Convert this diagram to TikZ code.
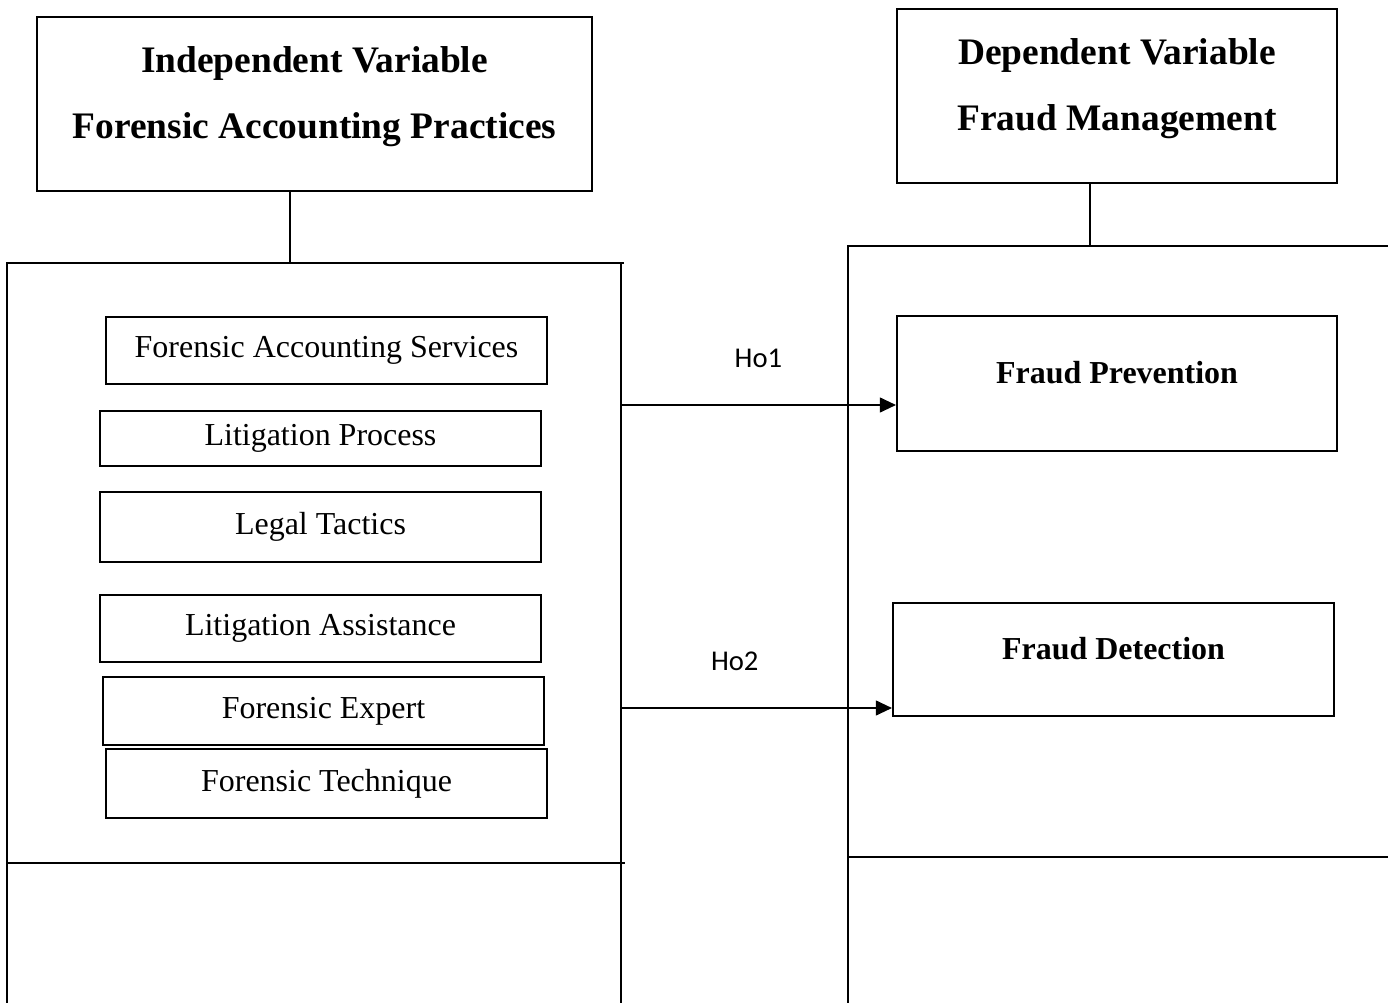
\documentclass[tikz,border=0pt]{standalone}
\usepackage{fontspec}
\setmainfont{Liberation Serif}
\newfontfamily\hofont{Carlito}
\usetikzlibrary{arrows.meta}

\begin{document}
\begin{tikzpicture}[x=0.02cm, y=-0.02cm,
    head/.style={draw, line width=1.4pt, inner sep=0pt, align=center, text depth=0.45cm,
        font=\fontsize{21.3}{37.5}\selectfont\bfseries},
    item/.style={draw, line width=1.1pt, inner sep=0pt, fill=white, minimum width=8.82cm,
        font=\fontsize{18.2}{20}\selectfont},
    target/.style={draw, line width=1.3pt, inner sep=0pt, text depth=0.43cm,
        font=\fontsize{18.2}{20}\selectfont\bfseries},
    frame/.style={line width=0.7pt},
    arr/.style={-{Triangle[length=0.32cm, width=0.3cm]}, line width=0.6pt},
    hyp/.style={font=\hofont\fontsize{16.3}{19}\selectfont}]
    \useasboundingbox (0,0) rectangle (1388,1003);

    \node[head, minimum width=11.1cm, minimum height=3.48cm] (IV) at (314.5, 104)
        {Independent Variable\\Forensic Accounting Practices};
    \node[head, minimum width=8.8cm, minimum height=3.48cm] (DV) at (1117, 96)
        {Dependent Variable\\Fraud Management};

    \coordinate (ltop) at (290, 263); \coordinate (rtop) at (1090, 246);
    \draw[frame] (ltop |- IV.south) to (ltop);
    \draw[frame] (rtop |- DV.south) to (rtop);
    \draw[frame] (7, 1003) -- (7, 263) -- (624, 263);
    \draw[frame] (621, 263) -- (621, 1003);
    \draw[frame] (7, 863) -- (625, 863);
    \draw[frame] (848, 1003) -- (848, 246) -- (1388, 246);
    \draw[frame] (848, 857) -- (1388, 857);

    \node[item, minimum height=1.34cm] (FAS) at (326.5, 350.5) {Forensic Accounting Services};
    \node[item, minimum height=1.1cm] (LP) at (320.5, 438.5) {Litigation Process};
    \node[item, minimum height=1.4cm] (LT) at (320.5, 527) {Legal Tactics};
    \node[item, minimum height=1.34cm] (LA) at (320.5, 628.5) {Litigation Assistance};
    \node[item, minimum height=1.38cm] (FT) at (326.5, 783.5) {Forensic Technique};
    \node[item, minimum height=1.36cm] (FE) at (323.5, 711) {Forensic Expert};

    \node[target, minimum width=8.8cm, minimum height=2.7cm] (FP) at (1117, 383.5) {Fraud Prevention};
    \node[target, minimum width=8.82cm, minimum height=2.26cm] (FD) at (1113.5, 659.5) {Fraud Detection};

    \coordinate (h1) at (621, 405); \coordinate (h2) at (621, 708);
    \draw[arr] (h1) to node[hyp, above=0.62cm] {Ho1} (h1 -| FP.west);
    \draw[arr] (h2) to node[hyp, pos=0.42, above=0.62cm] {Ho2} (h2 -| FD.west);
\end{tikzpicture}
\end{document}
